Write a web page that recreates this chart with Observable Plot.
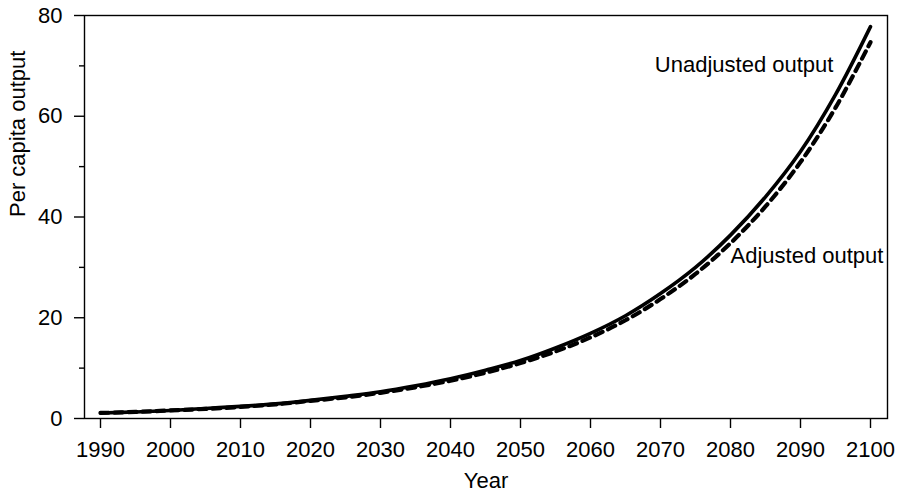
<!DOCTYPE html>
<html><head><meta charset="utf-8">
<script src="https://cdn.jsdelivr.net/npm/d3@7"></script>
<script src="https://cdn.jsdelivr.net/npm/@observablehq/plot@0.6"></script>
<style>body{margin:0;background:#fff}</style>
</head><body><div id="chart"></div>
<script>
const years = [1990,1995,2000,2005,2010,2015,2020,2025,2030,2035,2040,2045,2050,2055,2060,2065,2070,2075,2080,2085,2090,2095,2100];
const unadjusted = [1.1,1.3,1.6,2.0,2.4,2.9,3.6,4.4,5.3,6.5,7.9,9.6,11.5,14.0,16.9,20.4,24.8,30.0,36.4,44.0,53.0,64.3,77.8];
const adjusted   = [1.1,1.3,1.6,1.9,2.3,2.8,3.5,4.2,5.1,6.2,7.5,9.1,11.0,13.3,16.1,19.5,23.7,28.7,34.8,42.1,50.9,61.7,74.7];
const xTicks = [1990,2000,2010,2020,2030,2040,2050,2060,2070,2080,2090,2100];
const yTicks = [0,20,40,60,80];
const yMinorTicks = [10,30,50,70];
const seriesLabels = ["Unadjusted output","Adjusted output"];
const xTitle = "Year";
const yTitle = "Per capita output";

const rows = years.map((yr, i) => ({year: yr, unadjusted: unadjusted[i], adjusted: adjusted[i]}));

const chart = Plot.plot({
  width: 901, height: 492,
  marginLeft: 84, marginRight: 14, marginTop: 15, marginBottom: 74,
  x: {domain: [1990, 2100], insetLeft: 16, insetRight: 17},
  y: {domain: [0, 80]},
  style: {fontFamily: "'Liberation Sans', Arial, Helvetica, sans-serif", fontSize: "22px", color: "#000", background: "#fff"},
  marks: [
    Plot.frame({stroke: "#000", strokeWidth: 1.4}),
    Plot.axisY(yTicks, {tickSize: 10, tickPadding: 12, label: null, strokeWidth: 1.4, fontSize: 22}),
    Plot.axisY(yMinorTicks, {tickSize: 5, text: null, label: null, strokeWidth: 1.4}),
    Plot.axisX(xTicks, {tickSize: 10, tickPadding: 13, label: null, strokeWidth: 1.4, fontSize: 22, tickFormat: d => String(d)}),
    Plot.line(rows, {x: "year", y: "adjusted", stroke: "#000", strokeWidth: 4.2, strokeDasharray: "8,6", curve: "catmull-rom"}),
    Plot.line(rows, {x: "year", y: "unadjusted", stroke: "#000", strokeWidth: 3.6, curve: "catmull-rom"}),
    Plot.text([seriesLabels[0]], {x: [2094.7], y: [70.2], textAnchor: "end", lineAnchor: "middle", fontSize: 22}),
    Plot.text([seriesLabels[1]], {x: [2080], y: [32.3], textAnchor: "start", lineAnchor: "middle", fontSize: 22}),
    Plot.text([yTitle], {frameAnchor: "left", dx: -67, rotate: -90, lineAnchor: "middle", fontSize: 22}),
    Plot.text([xTitle], {frameAnchor: "bottom", dy: 62, lineAnchor: "middle", fontSize: 22})
  ]
});
document.getElementById("chart").append(chart);
</script>
</body></html>
